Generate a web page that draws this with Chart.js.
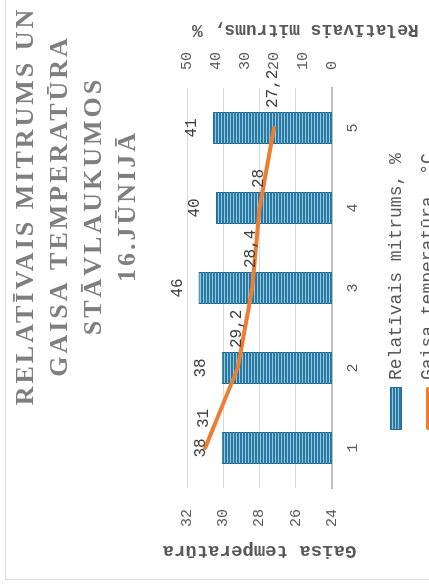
<!DOCTYPE html>
<html>
<head>
<meta charset="utf-8">
<script src="https://cdn.jsdelivr.net/npm/chart.js@4.4.1/dist/chart.umd.min.js"></script>
<style>
  html, body { margin: 0; padding: 0; background: #fff; width: 429px; height: 586px; overflow: hidden; }
  /* the chart is laid out 586x429 and turned a quarter turn counter-clockwise */
  #stage { position: absolute; left: 0; top: 0; width: 586px; height: 429px;
           transform-origin: 0 0; transform: translateY(586px) rotate(-90deg); background: #fff; }
  canvas { display: block; }
</style>
</head>
<body>
<div id="stage"><canvas id="c" width="586" height="429"></canvas></div>
<script>
// --- data ---
const categories = ['1', '2', '3', '4', '5'];
const humidity = [38, 38, 46, 40, 41];            // Relatīvais mitrums, %
const temperature = [31, 29.2, 28.4, 28, 27.2];   // Gaisa temperatūra, °C
const titleLines = ['RELATĪVAIS MITRUMS UN', 'GAISA TEMPERATŪRA', 'STĀVLAUKUMOS', '16.JŪNIJĀ'];
const humidityLabel = 'Relatīvais mitrums, %';
const temperatureLabel = 'Gaisa temperatūra, °C';
const tempAxisTitle = 'Gaisa temperatūra';
const humidityAxisTitle = 'Relatīvais mitrums, %';

const MONO = '"Liberation Mono", "DejaVu Sans Mono", monospace';
const SERIF = '"Liberation Serif", "DejaVu Serif", serif';
const TEXT = '#595959';
const ORANGE = '#ED7D31';

const canvas = document.getElementById('c');
const ctx = canvas.getContext('2d');

// narrow horizontal stripe fill for the humidity bars
function stripes() {
  const p = document.createElement('canvas');
  p.width = 4; p.height = 3;
  const g = p.getContext('2d');
  g.fillStyle = '#2a7ba4'; g.fillRect(0, 0, 4, 3);
  g.fillStyle = '#93c5dd'; g.fillRect(0, 2, 4, 1);
  return ctx.createPattern(p, 'repeat');
}
const barFill = stripes();

const fmt = v => String(v).replace('.', ',');

const frame = {
  id: 'frame',
  beforeDraw(chart) {
    const c = chart.ctx;
    c.save();
    c.fillStyle = '#fff';
    c.fillRect(0, 0, chart.width, chart.height);
    c.strokeStyle = '#d9d9d9';
    c.lineWidth = 1;
    c.strokeRect(6.5, 5.5, chart.width + 40, chart.height + 40);
    c.restore();
  }
};

const heading = {
  id: 'heading',
  afterDraw(chart) {
    const c = chart.ctx;
    c.save();
    c.font = 'bold 26px ' + SERIF;
    c.letterSpacing = '3px';
    c.fillStyle = '#7f7f7f';
    c.textAlign = 'center';
    c.textBaseline = 'alphabetic';
    const cx = 380, base = 33, step = 34;
    titleLines.forEach((t, i) => c.fillText(t, cx, base + i * step));
    c.restore();
  }
};

const valueLabels = {
  id: 'valueLabels',
  afterDatasetsDraw(chart) {
    const c = chart.ctx;
    c.save();
    c.font = '16px ' + MONO;
    c.fillStyle = '#404040';
    c.textBaseline = 'middle';
    c.textAlign = 'center';
    chart.getDatasetMeta(1).data.forEach((el, i) => c.fillText(fmt(humidity[i]), el.x, el.y - 21));
    c.textAlign = 'left';
    chart.getDatasetMeta(0).data.forEach((el, i) => c.fillText(fmt(temperature[i]), el.x + 20, el.y - 1));
    c.restore();
  }
};

const sideTitleAndKey = {
  id: 'sideTitleAndKey',
  afterDraw(chart) {
    const c = chart.ctx;
    c.save();
    // secondary axis title, reading upward
    c.font = 'bold 18px ' + MONO;
    c.fillStyle = TEXT;
    c.textBaseline = 'middle';
    c.textAlign = 'right';
    c.translate(556, 192);
    c.rotate(-Math.PI / 2);
    c.fillText(humidityAxisTitle, 0, 0);
    c.restore();

    // legend, one entry per row
    c.save();
    c.font = '18px ' + MONO;
    c.textBaseline = 'middle';
    c.textAlign = 'left';
    c.fillStyle = barFill;
    c.fillRect(156, 390, 43, 12);
    c.strokeStyle = '#236f96';
    c.lineWidth = 1;
    c.strokeRect(156.5, 390.5, 42, 11);
    c.fillStyle = TEXT;
    c.fillText(humidityLabel, 206, 396);
    c.strokeStyle = ORANGE;
    c.lineWidth = 4;
    c.lineCap = 'round';
    c.beginPath();
    c.moveTo(158, 428); c.lineTo(197, 428);
    c.stroke();
    c.fillText(temperatureLabel, 206, 428);
    c.restore();
  }
};

new Chart(ctx, {
  type: 'bar',
  data: {
    labels: categories,
    datasets: [
      {
        type: 'line', label: temperatureLabel, data: temperature, yAxisID: 'y',
        borderColor: ORANGE, backgroundColor: ORANGE, borderWidth: 4,
        pointRadius: 0, tension: 0, borderCapStyle: 'round', borderJoinStyle: 'round', order: 0
      },
      {
        type: 'bar', label: humidityLabel, data: humidity, yAxisID: 'y1',
        backgroundColor: barFill, borderColor: '#236f96', borderWidth: 1,
        barPercentage: 0.5, categoryPercentage: 0.8, order: 1
      }
    ]
  },
  options: {
    responsive: false,
    animation: false,
    devicePixelRatio: 1,
    layout: { padding: { top: 187, left: 0, right: 0, bottom: 0 } },
    plugins: { legend: { display: false }, title: { display: false }, tooltip: { enabled: false } },
    scales: {
      x: {
        offset: true,
        grid: { display: false, drawTicks: false },
        border: { display: true, color: '#bfbfbf', width: 2 },
        ticks: { color: TEXT, font: { family: MONO, size: 15 }, padding: 12 },
        afterFit(s) { s.height = 97; }
      },
      y: {
        position: 'left', min: 24, max: 32,
        ticks: { stepSize: 2, color: TEXT, font: { family: MONO, size: 15 }, padding: 21 },
        grid: { color: '#d9d9d9', drawTicks: false },
        border: { display: false },
        title: { display: true, text: tempAxisTitle, color: TEXT,
                 font: { family: MONO, size: 19, weight: 'bold' }, padding: { top: 24, bottom: 0 } },
        afterFit(s) { s.width = 98; }
      },
      y1: {
        position: 'right', min: 0, max: 50,
        ticks: { stepSize: 10, color: TEXT, font: { family: MONO, size: 15 }, padding: 18 },
        grid: { display: false, drawTicks: false },
        border: { display: false },
        afterFit(s) { s.width = 88; }
      }
    }
  },
  plugins: [frame, heading, valueLabels, sideTitleAndKey]
});
</script>
</body>
</html>
